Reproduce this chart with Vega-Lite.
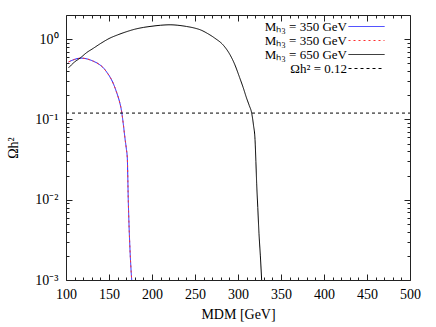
{
 "$schema": "https://vega.github.io/schema/vega-lite/v6.json",
 "width": 344, "height": 265,
 "autosize": "none",
 "padding": {"left": 66, "top": 15, "right": 26, "bottom": 47},
 "background": "white",
 "config": {
   "view": {"stroke": "#222", "strokeWidth": 1},
   "font": "Liberation Serif",
   "axis": {"grid": false, "domain": false, "labelFont": "Liberation Serif", "titleFont": "Liberation Serif", "labelFontSize": 14, "titleFontSize": 14, "labelColor": "#000", "titleColor": "#000", "titleFontWeight": "normal", "tickColor": "#222", "tickWidth": 1},
   "legend": {"symbolType": "M-3,0H3", "symbolSize": 144, "symbolStrokeWidth": 1, "labelFont": "Liberation Serif", "labelFontSize": 13, "labelColor": "#000", "labelAlign": "right", "labelOffset": -26, "rowPadding": 0, "padding": 0, "labelLimit": 300}
 },
 "data": {"values": [
  {"s":"a","x":103,"y":0.52},{"s":"a","x":110,"y":0.56},{"s":"a","x":118,"y":0.58},{"s":"a","x":125,"y":0.565},{"s":"a","x":132,"y":0.53},{"s":"a","x":138,"y":0.49},{"s":"a","x":143.4,"y":0.44},{"s":"a","x":148,"y":0.38},{"s":"a","x":151,"y":0.34},{"s":"a","x":155,"y":0.28},{"s":"a","x":159,"y":0.215},{"s":"a","x":162,"y":0.17},{"s":"a","x":164.7,"y":0.125},{"s":"a","x":166.5,"y":0.09},{"s":"a","x":168.6,"y":0.058},{"s":"a","x":170.3,"y":0.042},{"s":"a","x":171.3,"y":0.033},{"s":"a","x":172.4,"y":0.01},{"s":"a","x":174.4,"y":0.0024},{"s":"a","x":176.4,"y":0.001},
  {"s":"b","x":103,"y":0.52},{"s":"b","x":110,"y":0.56},{"s":"b","x":118,"y":0.58},{"s":"b","x":125,"y":0.565},{"s":"b","x":132,"y":0.53},{"s":"b","x":138,"y":0.49},{"s":"b","x":143.4,"y":0.44},{"s":"b","x":148,"y":0.38},{"s":"b","x":151,"y":0.34},{"s":"b","x":155,"y":0.28},{"s":"b","x":159,"y":0.215},{"s":"b","x":162,"y":0.17},{"s":"b","x":164.7,"y":0.125},{"s":"b","x":166.5,"y":0.09},{"s":"b","x":168.6,"y":0.058},{"s":"b","x":170.3,"y":0.042},{"s":"b","x":171.3,"y":0.033},{"s":"b","x":172.4,"y":0.01},{"s":"b","x":174.4,"y":0.0024},{"s":"b","x":176.4,"y":0.001},
  {"s":"c","x":103,"y":0.44},{"s":"c","x":110,"y":0.52},{"s":"c","x":116.3,"y":0.58},{"s":"c","x":124,"y":0.68},{"s":"c","x":131.8,"y":0.77},{"s":"c","x":140,"y":0.88},{"s":"c","x":151,"y":1.03},{"s":"c","x":160,"y":1.13},{"s":"c","x":170.5,"y":1.24},{"s":"c","x":180,"y":1.33},{"s":"c","x":190,"y":1.4},{"s":"c","x":200,"y":1.45},{"s":"c","x":210,"y":1.49},{"s":"c","x":221,"y":1.51},{"s":"c","x":230,"y":1.49},{"s":"c","x":240,"y":1.44},{"s":"c","x":250,"y":1.37},{"s":"c","x":256,"y":1.31},{"s":"c","x":265,"y":1.17},{"s":"c","x":273,"y":1.03},{"s":"c","x":283,"y":0.84},{"s":"c","x":290.7,"y":0.64},{"s":"c","x":296,"y":0.49},{"s":"c","x":302,"y":0.33},{"s":"c","x":306,"y":0.25},{"s":"c","x":310,"y":0.184},{"s":"c","x":313,"y":0.15},{"s":"c","x":315.9,"y":0.12},{"s":"c","x":318,"y":0.085},{"s":"c","x":319.8,"y":0.056},{"s":"c","x":320.8,"y":0.03},{"s":"c","x":321.7,"y":0.016},{"s":"c","x":323,"y":0.008},{"s":"c","x":324.4,"y":0.0038},{"s":"c","x":326,"y":0.002},{"s":"c","x":327.5,"y":0.001},
  {"s":"d","x":100,"y":0.12},{"s":"d","x":500,"y":0.12}
 ]},
 "resolve": {"axis": {"x": "independent", "y": "independent"}},
 "layer": [
  {"mark": {"type": "line", "strokeWidth": 1, "clip": true, "interpolate": "monotone"},
   "encoding": {
    "x": {"field": "x", "type": "quantitative", "scale": {"domain": [100, 500], "nice": false, "zero": false},
          "axis": {"orient": "bottom", "values": [100,150,200,250,300,350,400,450,500], "ticks": false, "labelPadding": 7, "labelFlush": false, "title": "MDM [GeV]", "titlePadding": 6}},
    "y": {"field": "y", "type": "quantitative", "scale": {"type": "log", "domain": [0.001, 2], "nice": false},
          "axis": {"orient": "left", "values": [0.001, 0.01, 0.1, 1], "labelExpr": "datum.value >= 0.5 ? '10⁰' : datum.value >= 0.05 ? '10⁻¹' : datum.value >= 0.005 ? '10⁻²' : '10⁻³'", "ticks": false, "labelPadding": 8, "labelFlush": false, "title": "Ωh²", "titlePadding": 14}},
    "color": {"field": "s", "type": "nominal", "scale": {"domain": ["a","b","c","d"], "range": ["#1a1aff","#ff3030","#000000","#000000"]},
              "legend": {"title": null, "orient": "none", "legendX": 294, "legendY": 5, "labelExpr": "datum.value == 'a' ? 'Mₕ₃ = 350 GeV' : datum.value == 'b' ? 'Mₕ₃ = 350 GeV' : datum.value == 'c' ? 'Mₕ₃ = 650 GeV' : 'Ωh² = 0.12'"}},
    "strokeDash": {"field": "s", "type": "nominal", "scale": {"domain": ["a","b","c","d"], "range": [[1,0],[2,3],[1,0],[3,3]]},
              "legend": {"title": null, "orient": "none", "legendX": 294, "legendY": 5, "labelExpr": "datum.value == 'a' ? 'Mₕ₃ = 350 GeV' : datum.value == 'b' ? 'Mₕ₃ = 350 GeV' : datum.value == 'c' ? 'Mₕ₃ = 650 GeV' : 'Ωh² = 0.12'"}}
   }},
  {"mark": {"type": "point", "opacity": 0},
   "encoding": {
    "x": {"field": "x", "type": "quantitative", "axis": {"orient": "bottom", "values": [100,150,200,250,300,350,400,450,500], "labels": false, "tickSize": -6, "title": null}},
    "y": {"field": "y", "type": "quantitative", "axis": {"orient": "left", "values": [0.001, 0.01, 0.1, 1], "labels": false, "tickSize": -6, "title": null}}
   }},
  {"mark": {"type": "point", "opacity": 0},
   "encoding": {
    "x": {"field": "x", "type": "quantitative", "axis": {"orient": "top", "values": [100,150,200,250,300,350,400,450,500], "labels": false, "tickSize": -6, "title": null}},
    "y": {"field": "y", "type": "quantitative", "axis": {"orient": "right", "values": [0.001, 0.01, 0.1, 1], "labels": false, "tickSize": -6, "title": null}}
   }},
  {"mark": {"type": "point", "opacity": 0},
   "encoding": {
    "x": {"field": "x", "type": "quantitative", "axis": {"orient": "bottom", "values": [110,120,130,140,160,170,180,190,210,220,230,240,260,270,280,290,310,320,330,340,360,370,380,390,410,420,430,440,460,470,480,490], "labels": false, "tickSize": -3, "title": null}},
    "y": {"field": "y", "type": "quantitative", "axis": {"orient": "left", "values": [0.002,0.003,0.004,0.005,0.006,0.007,0.008,0.009,0.02,0.03,0.04,0.05,0.06,0.07,0.08,0.09,0.2,0.3,0.4,0.5,0.6,0.7,0.8,0.9], "labels": false, "tickSize": -3, "title": null}}
   }},
  {"mark": {"type": "point", "opacity": 0},
   "encoding": {
    "x": {"field": "x", "type": "quantitative", "axis": {"orient": "top", "values": [110,120,130,140,160,170,180,190,210,220,230,240,260,270,280,290,310,320,330,340,360,370,380,390,410,420,430,440,460,470,480,490], "labels": false, "tickSize": -3, "title": null}},
    "y": {"field": "y", "type": "quantitative", "axis": {"orient": "right", "values": [0.002,0.003,0.004,0.005,0.006,0.007,0.008,0.009,0.02,0.03,0.04,0.05,0.06,0.07,0.08,0.09,0.2,0.3,0.4,0.5,0.6,0.7,0.8,0.9], "labels": false, "tickSize": -3, "title": null}}
   }}
 ]
}
